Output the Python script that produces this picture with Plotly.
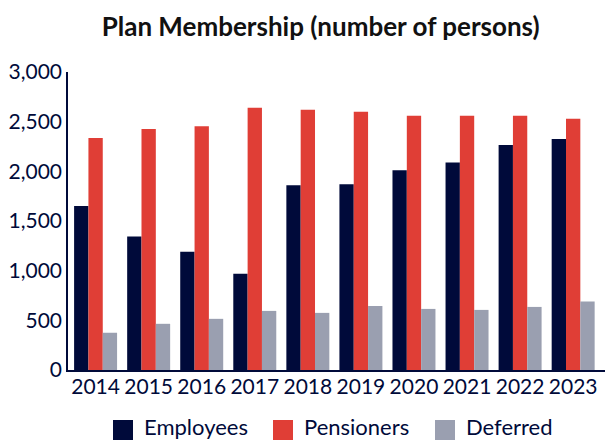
import plotly.graph_objects as go

years = ["2014", "2015", "2016", "2017", "2018", "2019", "2020", "2021", "2022", "2023"]
employees = [1650, 1345, 1190, 970, 1860, 1870, 2010, 2090, 2265, 2325]
pensioners = [2335, 2425, 2455, 2640, 2620, 2600, 2560, 2560, 2560, 2530]
deferred = [375, 465, 515, 595, 575, 645, 615, 605, 635, 690]

series_names = ["Employees", "Pensioners", "Deferred"]

y_ticks = [0, 500, 1000, 1500, 2000, 2500, 3000]
y_tick_text = ["0", "500", "1,000", "1,500", "2,000", "2,500", "3,000"]

navy = "#000a3a"
red = "#e03e36"
grey = "#9a9fb0"
colors = [navy, red, grey]
font_family = "Lato, 'Open Sans', sans-serif"

W, H = 605, 440
ML, MR, MT, MB = 68, 0, 72, 70

fig = go.Figure()
for name, vals, col in zip(series_names, [employees, pensioners, deferred], colors):
    fig.add_trace(go.Bar(x=years, y=vals, name=name, marker_color=col,
                         marker_line_width=0, showlegend=False))

# Legend drawn as square swatches with labels below the axis
legend_x = [113, 273, 435]  # pixel left of each swatch
shapes = []
annotations = []
pw = W - ML - MR
ph = H - MT - MB
def px_x(p):
    return (p - ML) / pw
def px_y(p):
    return (H - MB - p) / ph
for name, col, lx in zip(series_names, colors, legend_x):
    shapes.append(dict(type="rect", xref="paper", yref="paper",
                       x0=px_x(lx), x1=px_x(lx + 20), y0=px_y(440), y1=px_y(420),
                       fillcolor=col, line_width=0))
    annotations.append(dict(text=name, xref="paper", yref="paper",
                            x=px_x(lx + 29), y=px_y(426), xanchor="left", yanchor="middle",
                            showarrow=False, font=dict(size=22, color=navy)))

fig.update_layout(
    width=W, height=H,
    margin=dict(l=ML, r=MR, t=MT, b=MB, autoexpand=False),
    paper_bgcolor="white", plot_bgcolor="white",
    barmode="group", bargap=0.19, bargroupgap=0,
    title=dict(text="<b>Plan Membership (number of persons)</b>",
               x=0.53, xanchor="center", y=0.94, yanchor="middle",
               font=dict(family=font_family, size=26, color="#111111")),
    font=dict(family=font_family, color=navy),
    shapes=shapes, annotations=annotations,
    showlegend=False,
)
fig.update_xaxes(range=[-0.52, 9.6], showline=True, linecolor=navy, linewidth=1.5,
                 ticks="", ticklabelstandoff=-3,
                 tickfont=dict(size=21, color=navy), showgrid=False)
fig.update_yaxes(range=[0, 3000], tickvals=y_ticks, ticktext=y_tick_text,
                 showline=True, linecolor=navy, linewidth=1.5, ticks="",
                 tickfont=dict(size=21, color=navy), showgrid=False, zeroline=False)

fig.write_html("out.html")
